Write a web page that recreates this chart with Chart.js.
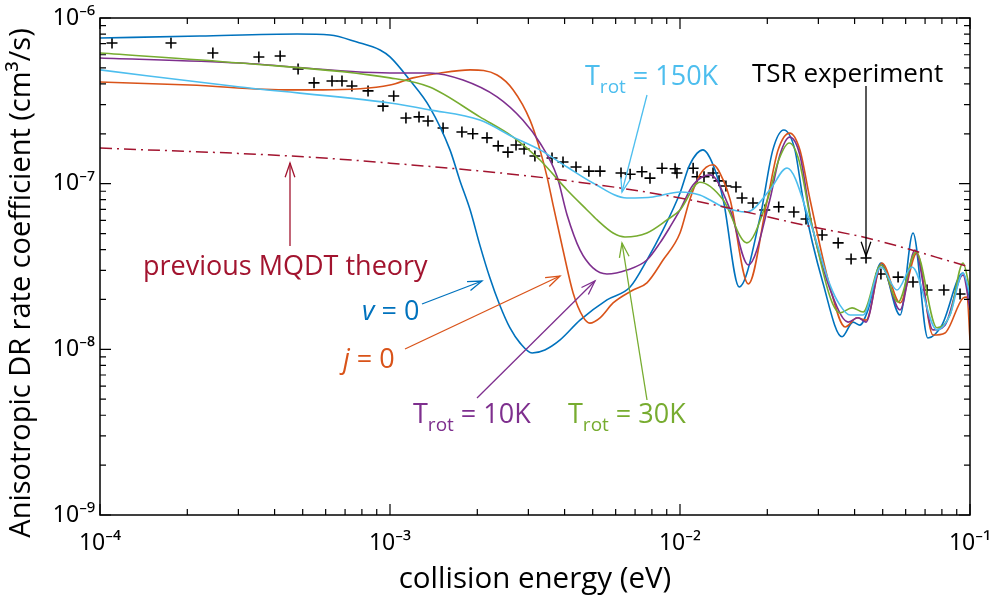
<!DOCTYPE html>
<html><head><meta charset="utf-8">
<script src="https://cdn.jsdelivr.net/npm/chart.js@4.4.0/dist/chart.umd.min.js"></script>
<style>html,body{margin:0;padding:0;background:#fff;} #wrap{width:997px;height:599px;}</style>
</head><body><div id="wrap"><canvas id="c" width="997" height="599"></canvas></div>
<script>
// ---- data: [collision energy (eV), rate coefficient (cm^3/s)] ----
const seriesV0 = [[1.0e-4,7.57e-7],[2.21e-4,7.79e-7],[4.78e-4,8.0e-7],[6.21e-4,7.89e-7],[7.69e-4,7.16e-7],[9.24e-4,6.41e-7],[1.0e-3,5.82e-7],[1.17e-3,4.22e-7],[1.37e-3,2.90e-7],[1.61e-3,1.60e-7],[1.74e-3,1.05e-7],[1.89e-3,6.94e-8],[2.04e-3,4.27e-8],[2.21e-3,2.70e-8],[2.39e-3,1.85e-8],[2.59e-3,1.35e-8],[2.81e-3,1.09e-8],[3.09e-3,9.51e-9],[3.42e-3,9.92e-9],[3.86e-3,1.14e-8],[4.52e-3,1.50e-8],[5.60e-3,1.99e-8],[6.73e-3,2.38e-8],[7.69e-3,3.46e-8],[8.74e-3,5.26e-8],[1.0e-2,8.79e-8],[1.08e-2,1.30e-7],[1.20e-2,1.60e-7],[1.30e-2,1.30e-7],[1.41e-2,7.97e-8],[1.60e-2,2.38e-8],[1.89e-2,6.30e-8],[2.09e-2,1.60e-7],[2.28e-2,2.11e-7],[2.49e-2,1.60e-7],[2.66e-2,7.97e-8],[3.11e-2,2.52e-8],[3.62e-2,1.19e-8],[3.95e-2,1.46e-8],[4.17e-2,1.40e-8],[4.45e-2,1.73e-8],[4.93e-2,3.32e-8],[5.74e-2,1.61e-8],[6.36e-2,5.04e-8],[7.16e-2,1.17e-8],[8.0e-2,1.40e-8],[9.46e-2,2.89e-8],[1.0e-1,1.99e-8]];
const seriesJ0 = [[1e-4,4.11e-7],[2.04e-4,3.94e-7],[4.52e-4,3.68e-7],[5.87e-4,3.68e-7],[1e-3,3.94e-7],[1.2e-3,4.35e-7],[1.49e-3,4.66e-7],[1.89e-3,4.86e-7],[2.34e-3,4.53e-7],[2.66e-3,3.68e-7],[3.04e-3,2.42e-7],[3.29e-3,1.60e-7],[3.48e-3,1.10e-7],[3.65e-3,7.44e-8],[3.95e-3,3.98e-8],[4.28e-3,2.19e-8],[4.63e-3,1.57e-8],[4.89e-3,1.44e-8],[5.30e-3,1.55e-8],[5.88e-3,1.905e-8],[6.89e-3,2.28e-8],[7.69e-3,2.52e-8],[8.74e-3,3.46e-8],[1e-2,5.04e-8],[1.08e-2,7.97e-8],[1.17e-2,1.13e-7],[1.30e-2,1.30e-7],[1.41e-2,1.05e-7],[1.49e-2,7.97e-8],[1.72e-2,2.48e-8],[2.0e-2,7.97e-8],[2.18e-2,1.60e-7],[2.39e-2,2.02e-7],[2.59e-2,1.60e-7],[2.81e-2,7.97e-8],[3.29e-2,2.38e-8],[3.71e-2,1.365e-8],[4.08e-2,1.55e-8],[4.38e-2,1.50e-8],[4.97e-2,3.32e-8],[5.74e-2,1.905e-8],[6.56e-2,3.82e-8],[7.45e-2,1.22e-8],[8.2e-2,1.256e-8],[9.46e-2,2.04e-8],[9.77e-2,2.07e-8],[1e-1,1.14e-8]];
const seriesT10 = [[1e-4,5.74e-7],[3.04e-4,5.35e-7],[1e-3,4.66e-7],[1.37e-3,4.66e-7],[1.785e-3,4.22e-7],[2.34e-3,3.34e-7],[2.87e-3,2.42e-7],[3.29e-3,1.76e-7],[3.77e-3,1.10e-7],[4.08e-3,6.47e-8],[4.52e-3,3.98e-8],[5.01e-3,3.10e-8],[5.60e-3,2.85e-8],[6.56e-3,3.01e-8],[7.69e-3,3.46e-8],[8.53e-3,4.39e-8],[9.24e-3,5.48e-8],[1e-2,6.94e-8],[1.109e-2,9.82e-8],[1.27e-2,1.13e-7],[1.49e-2,6.94e-8],[1.72e-2,3.23e-8],[2.04e-2,7.97e-8],[2.21e-2,1.49e-7],[2.39e-2,1.91e-7],[2.59e-2,1.49e-7],[2.85e-2,5.63e-8],[3.48e-2,1.80e-8],[3.8e-2,1.46e-8],[4.11e-2,1.55e-8],[4.38e-2,1.46e-8],[4.93e-2,3.23e-8],[5.74e-2,1.73e-8],[6.46e-2,3.98e-8],[7.45e-2,1.31e-8],[8.2e-2,1.40e-8],[9.46e-2,2.81e-8],[1e-1,1.73e-8]];
const seriesT30 = [[1e-4,6.15e-7],[3.04e-4,5.35e-7],[1e-3,4.35e-7],[1.37e-3,3.83e-7],[2.04e-3,2.53e-7],[2.66e-3,1.91e-7],[3.29e-3,1.39e-7],[4.08e-3,9.16e-8],[4.78e-3,6.94e-8],[5.18e-3,6.04e-8],[5.88e-3,5.04e-8],[6.46e-3,4.77e-8],[7.69e-3,5.04e-8],[9.02e-3,6.04e-8],[1e-2,6.94e-8],[1.17e-2,1.02e-7],[1.41e-2,7.97e-8],[1.70e-2,4.39e-8],[2.0e-2,7.97e-8],[2.19e-2,1.39e-7],[2.38e-2,1.76e-7],[2.57e-2,1.39e-7],[2.85e-2,5.63e-8],[3.56e-2,1.66e-8],[3.92e-2,1.78e-8],[4.28e-2,1.68e-8],[4.93e-2,3.23e-8],[5.65e-2,1.93e-8],[6.51e-2,3.87e-8],[7.69e-2,1.35e-8],[8.53e-2,1.61e-8],[9.46e-2,3.32e-8],[1e-1,2.28e-8]];
const seriesT150 = [[1e-4,4.86e-7],[3.04e-4,3.83e-7],[1e-3,3.07e-7],[1.37e-3,2.79e-7],[2.04e-3,2.42e-7],[2.66e-3,1.91e-7],[3.29e-3,1.60e-7],[4.08e-3,1.26e-7],[5.01e-3,1.01e-7],[6.56e-3,8.2e-8],[8.07e-3,8.31e-8],[1e-2,8.91e-8],[1.17e-2,8.55e-8],[1.41e-2,7.24e-8],[1.70e-2,6.75e-8],[2.04e-2,9.16e-8],[2.34e-2,1.244e-7],[2.81e-2,5.87e-8],[3.29e-2,2.45e-8],[3.56e-2,1.85e-8],[3.86e-2,1.61e-8],[4.28e-2,1.61e-8],[4.93e-2,3.14e-8],[5.6e-2,2.28e-8],[6.31e-2,3.14e-8],[7.69e-2,1.31e-8],[8.53e-2,1.61e-8],[9.46e-2,2.89e-8],[1e-1,2.13e-8]];
const seriesMQDT = [[1e-4,1.64e-7],[4.52e-4,1.47e-7],[1e-3,1.33e-7],[3.48e-3,1.08e-7],[1e-2,8.2e-8],[2.87e-2,5.48e-8],[4.42e-2,4.70e-8],[1e-1,3.14e-8]];
const seriesTSR = [[1.10e-4,7.06e-7],[1.757e-4,7.06e-7],[2.45e-4,6.15e-7],[3.53e-4,5.82e-7],[4.18e-4,5.90e-7],[4.82e-4,4.92e-7],[5.47e-4,4.06e-7],[6.31e-4,4.17e-7],[6.83e-4,4.17e-7],[7.39e-4,3.89e-7],[8.40e-4,3.63e-7],[9.46e-4,2.94e-7],[1.03e-3,3.38e-7],[1.135e-3,2.49e-7],[1.259e-3,2.53e-7],[1.352e-3,2.39e-7],[1.524e-3,2.17e-7],[1.77e-3,2.05e-7],[1.93e-3,2.0e-7],[2.16e-3,1.89e-7],[2.36e-3,1.69e-7],[2.55e-3,1.55e-7],[2.72e-3,1.71e-7],[2.90e-3,1.62e-7],[3.16e-3,1.47e-7],[3.62e-3,1.43e-7],[3.95e-3,1.35e-7],[4.38e-3,1.26e-7],[4.85e-3,1.19e-7],[5.30e-3,1.19e-7],[6.26e-3,1.16e-7],[6.73e-3,1.14e-7],[7.39e-3,1.18e-7],[7.88e-3,1.08e-7],[8.67e-3,1.24e-7],[9.62e-3,1.23e-7],[9.76e-3,1.16e-7],[1.11e-2,1.24e-7],[1.145e-2,1.10e-7],[1.21e-2,1.10e-7],[1.30e-2,1.16e-7],[1.363e-2,1.04e-7],[1.44e-2,9.68e-8],[1.56e-2,9.55e-8],[1.636e-2,8.2e-8],[1.785e-2,7.65e-8],[1.96e-2,6.94e-8],[2.19e-2,7.24e-8],[2.47e-2,6.75e-8],[2.72e-2,6.12e-8],[3.09e-2,4.90e-8],[3.51e-2,4.39e-8],[3.89e-2,3.51e-8],[4.38e-2,3.56e-8],[4.93e-2,2.85e-8],[5.65e-2,2.73e-8],[6.36e-2,2.55e-8],[7.11e-2,2.28e-8],[8.13e-2,2.28e-8],[9.24e-2,2.16e-8]];
const xTickValues = [1e-4, 1e-3, 1e-2, 1e-1];
const yTickValues = [1e-9, 1e-8, 1e-7, 1e-6];
const yAxisTitle = 'Anisotropic DR rate coefficient (cm\u00B3/s)';

const SUP = {'-':'\u207B','0':'\u2070','1':'\u00B9','2':'\u00B2','3':'\u00B3','4':'\u2074','5':'\u2075','6':'\u2076','7':'\u2077','8':'\u2078','9':'\u2079'};
function powLabel(v){ const e = Math.round(Math.log10(v)); return '10' + String(e).split('').map(c=>SUP[c]).join(''); }
function pts(a){ return a.map(p=>({x:p[0], y:p[1]})); }

const C = {blue:'#0072BD', orange:'#D95319', purple:'#7E2F8E', green:'#77AC30', lblue:'#4DBEEE', red:'#A2142F'};

function line(label, data, color, extra){
  return Object.assign({label, data:pts(data), borderColor:color, backgroundColor:color, borderWidth:1.6,
    pointRadius:0, fill:false, cubicInterpolationMode:'monotone', showLine:true}, extra||{});
}

// annotation layout (page pixels, relative to a plot box at left 100 / top 18)
const notes = [
  {color:C.lblue, x:585, y:85, parts:[['T',27,0],['rot',19,8],[' = 150K',27,0]], from:[647,95], to:[622,192]},
  {color:'#000', x:752, y:82, parts:[['TSR experiment',26,0]], from:[866,86], to:[866,256]},
  {color:C.red, x:143, y:275, parts:[['previous MQDT theory',27,0]], from:[290,246], to:[290,163]},
  {color:C.blue, x:362, y:320, parts:[['v',27,0,true],[' = 0',27,0]], from:[422,304], to:[482,281]},
  {color:C.orange, x:343, y:368, parts:[['j',27,0,true],[' = 0',27,0]], from:[405,349], to:[560,276]},
  {color:C.purple, x:413, y:423, parts:[['T',27,0],['rot',19,8],[' = 10K',27,0]], from:[477,398], to:[595,281]},
  {color:C.green, x:568, y:423, parts:[['T',27,0],['rot',19,8],[' = 30K',27,0]], from:[647,400], to:[622,243]}
];

const decor = {
  id:'decor',
  afterDatasetsDraw(chart){
    const ctx = chart.ctx, a = chart.chartArea, xs = chart.scales.x, ys = chart.scales.y;
    ctx.save();
    // frame
    ctx.strokeStyle = '#000'; ctx.lineWidth = 1.5;
    ctx.strokeRect(a.left, a.top, a.right - a.left, a.bottom - a.top);
    ctx.lineWidth = 1.2;
    ctx.beginPath();
    for (let e = -4; e <= -1; e++) {
      for (let k = 1; k <= 9; k++) {
        const v = k * Math.pow(10, e);
        if (v > 0.1 * 1.0001) continue;
        const p = xs.getPixelForValue(v), len = k === 1 ? 11 : 6;
        ctx.moveTo(p, a.bottom); ctx.lineTo(p, a.bottom - len);
        ctx.moveTo(p, a.top); ctx.lineTo(p, a.top + len);
      }
    }
    for (let e = -9; e <= -6; e++) {
      for (let k = 1; k <= 9; k++) {
        const v = k * Math.pow(10, e);
        if (v > 1e-6 * 1.0001) continue;
        const p = ys.getPixelForValue(v), len = k === 1 ? 11 : 6;
        ctx.moveTo(a.left, p); ctx.lineTo(a.left + len, p);
        ctx.moveTo(a.right, p); ctx.lineTo(a.right - len, p);
      }
    }
    ctx.stroke();
    const ox = a.left - 100, oy = a.top - 18;
    // y axis title
    ctx.save();
    ctx.translate(22 + ox, 283 + oy);
    ctx.rotate(-Math.PI / 2);
    ctx.fillStyle = '#000'; ctx.textAlign = 'center'; ctx.textBaseline = 'middle';
    ctx.font = '29px "Open Sans"';
    ctx.fillText(yAxisTitle, 0, 0);
    ctx.restore();
    // annotations
    notes.forEach(n => {
      ctx.fillStyle = n.color; ctx.strokeStyle = n.color;
      ctx.textBaseline = 'alphabetic'; ctx.textAlign = 'left';
      let x = n.x + ox;
      n.parts.forEach(p => {
        ctx.font = (p[3] ? 'italic ' : '') + p[1] + 'px "Open Sans"';
        ctx.fillText(p[0], x, n.y + oy + p[2]);
        x += ctx.measureText(p[0]).width;
      });
      const x0 = n.from[0] + ox, y0 = n.from[1] + oy, x1 = n.to[0] + ox, y1 = n.to[1] + oy;
      ctx.lineWidth = 1.3;
      ctx.beginPath(); ctx.moveTo(x0, y0); ctx.lineTo(x1, y1); ctx.stroke();
      const ang = Math.atan2(y1 - y0, x1 - x0), L = 15, h = 0.33;
      ctx.beginPath();
      ctx.moveTo(x1 - L * Math.cos(ang - h), y1 - L * Math.sin(ang - h));
      ctx.lineTo(x1, y1);
      ctx.lineTo(x1 - L * Math.cos(ang + h), y1 - L * Math.sin(ang + h));
      ctx.stroke();
    });
    ctx.restore();
  }
};

new Chart(document.getElementById('c'), {
  type: 'scatter',
  data: { datasets: [
    line('previous MQDT theory', seriesMQDT, C.red, {borderDash:[12,5,2,5], borderWidth:1.5}),
    line('T_rot = 150K', seriesT150, C.lblue),
    line('T_rot = 30K', seriesT30, C.green),
    line('T_rot = 10K', seriesT10, C.purple),
    line('j = 0', seriesJ0, C.orange),
    line('v = 0', seriesV0, C.blue),
    {label:'TSR experiment', data:pts(seriesTSR), showLine:false, pointStyle:'cross', pointRadius:5.5,
     borderColor:'#000', backgroundColor:'#000', borderWidth:1.6}
  ]},
  options: {
    responsive:false, animation:false, devicePixelRatio:1,
    layout:{padding:{top:18, right:27, left:0, bottom:0}},
    plugins:{legend:{display:false}, tooltip:{enabled:false}},
    scales:{
      x:{type:'logarithmic', min:1e-4, max:1e-1,
        afterBuildTicks: s => { s.ticks = xTickValues.map(v => ({value:v})); },
        afterFit: s => { s.height = 84; s.paddingLeft = 0; s.paddingRight = 0; },
        ticks:{callback:v => powLabel(v), font:{family:'Noto Sans', size:23}, color:'#000', padding:15, maxRotation:0, autoSkip:false},
        grid:{display:false, drawTicks:false}, border:{display:false},
        title:{display:true, text:'collision energy (eV)', color:'#000', font:{family:'Open Sans', size:29.5}, padding:{top:0, bottom:2}}
      },
      y:{type:'logarithmic', min:1e-9, max:1e-6,
        afterBuildTicks: s => { s.ticks = yTickValues.map(v => ({value:v})); },
        afterFit: s => { s.width = 100; s.paddingTop = 0; s.paddingBottom = 0; },
        ticks:{callback:v => powLabel(v), font:{family:'Noto Sans', size:23}, color:'#000', padding:5, autoSkip:false},
        grid:{display:false, drawTicks:false}, border:{display:false},
        title:{display:false}
      }
    }
  },
  plugins:[decor]
});
</script></body></html>
